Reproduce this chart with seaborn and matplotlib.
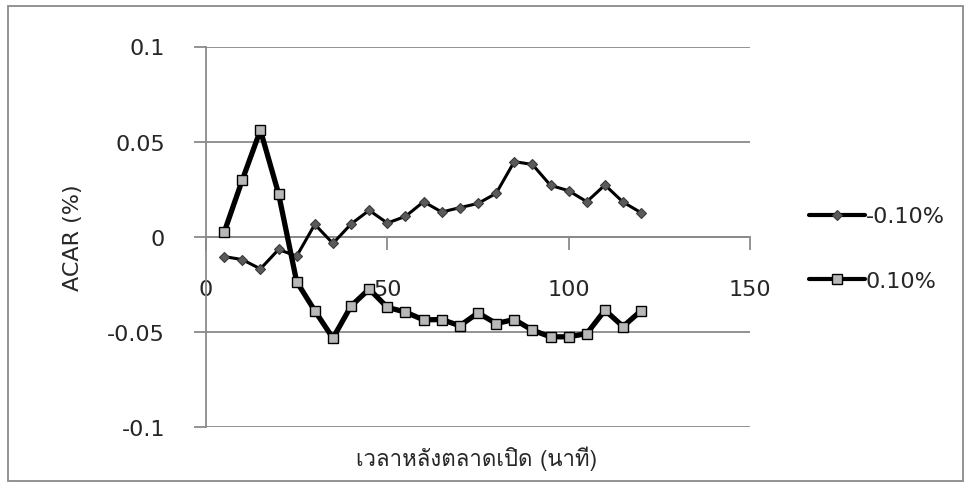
import numpy as np
import pandas as pd
import matplotlib
matplotlib.use("Agg")
import matplotlib.pyplot as plt
import seaborn as sns
from matplotlib import font_manager
from matplotlib.ft2font import FT2Font
from matplotlib.patches import Rectangle

# minutes after market open
minutes = [5, 10, 15, 20, 25, 30, 35, 40, 45, 50, 55, 60,
           65, 70, 75, 80, 85, 90, 95, 100, 105, 110, 115, 120]
acar_neg = [-0.0104, -0.0120, -0.0169, -0.0067, -0.0102, 0.0065, -0.0035, 0.0067,
            0.0139, 0.0072, 0.0107, 0.0184, 0.0130, 0.0153, 0.0175, 0.0228,
            0.0395, 0.0380, 0.0270, 0.0242, 0.0184, 0.0272, 0.0182, 0.0126]
acar_pos = [0.0023, 0.0298, 0.0560, 0.0227, -0.0236, -0.0389, -0.0533, -0.0364,
            -0.0275, -0.0371, -0.0396, -0.0437, -0.0435, -0.0468, -0.0400, -0.0456,
            -0.0435, -0.0491, -0.0526, -0.0526, -0.0509, -0.0386, -0.0472, -0.0388]
series_names = ["-0.10%", "0.10%"]
x_ticks = [0, 50, 100, 150]
y_ticks = [-0.1, -0.05, 0, 0.05, 0.1]
y_ticklabels = ["-0.1", "-0.05", "0", "0.05", "0.1"]
x_title = "เวลาหลังตลาดเปิด (นาที)"
y_title = "ACAR (%)"


def find_thai_font():
    for f in font_manager.fontManager.ttflist:
        try:
            if 0x0E40 in FT2Font(f.fname).get_charmap():
                return f.name
        except Exception:
            continue
    return None


sns.set_style("white")
plt.rcParams["font.family"] = ["DejaVu Sans"]
thai = find_thai_font()
thai_family = [thai, "DejaVu Sans"] if thai else ["DejaVu Sans"]

GRID = "#8a8a8a"
TEXT = "#262626"
W, H = 971, 489
fig = plt.figure(figsize=(W / 100, H / 100), dpi=100)
ax = fig.add_axes([206 / W, 1 - 428 / H, (750 - 206) / W, (428 - 47.5) / H])

df = pd.DataFrame({"minute": minutes, series_names[0]: acar_neg, series_names[1]: acar_pos})

sns.lineplot(data=df, x="minute", y=series_names[0], ax=ax, color="black", lw=2.2,
             marker="D", markersize=5.5, markerfacecolor="#5a5a5a",
             markeredgecolor="#3a3a3a", markeredgewidth=0.8, label=series_names[0],
             zorder=4)
sns.lineplot(data=df, x="minute", y=series_names[1], ax=ax, color="black", lw=3.8,
             marker="s", markersize=7.2, markerfacecolor="#b8b8b8",
             markeredgecolor="black", markeredgewidth=1.0, label=series_names[1],
             zorder=5)

ax.set_xlim(0, 150)
ax.set_ylim(-0.1, 0.1)
ax.set_xticks(x_ticks)
ax.set_yticks(y_ticks)
ax.set_yticklabels(y_ticklabels)

for y in y_ticks:
    ax.axhline(y, color=GRID, lw=1.3, zorder=1)

for side in ["top", "right"]:
    ax.spines[side].set_visible(False)
ax.spines["left"].set_color(GRID)
ax.spines["left"].set_linewidth(1.3)
ax.spines["bottom"].set_position(("data", 0))
ax.spines["bottom"].set_color(GRID)
ax.spines["bottom"].set_linewidth(1.3)

ax.tick_params(axis="x", bottom=True, direction="out", length=9.4, width=1.3,
               color=GRID, pad=21, labelsize=16, labelcolor=TEXT)
ax.tick_params(axis="y", left=True, direction="out", length=8.6, width=1.3,
               color=GRID, pad=21, labelsize=16, labelcolor=TEXT)

ax.set_xlabel("")
ax.set_ylabel("")
fig.text(476 / W, 1 - 459 / H, x_title, ha="center", va="center",
         fontsize=16, family=thai_family, color=TEXT)
fig.text(73 / W, 1 - 238 / H, y_title, ha="center", va="center",
         rotation=90, fontsize=16, color=TEXT)

leg = ax.legend(loc="center left", bbox_to_anchor=(809 / W, 1 - 249.5 / H),
                bbox_transform=fig.transFigure, frameon=False, fontsize=16,
                handlelength=2.5, handletextpad=0.05, labelspacing=2.0,
                borderpad=0, borderaxespad=0, labelcolor=TEXT)
for line in leg.get_lines():
    line.set_linewidth(3.0)

fig.patches.append(Rectangle((8 / W, 1 - 482 / H), (963 - 8) / W, (482 - 7) / H,
                             transform=fig.transFigure, fill=False,
                             edgecolor=GRID, lw=1.3))

fig.savefig("out.png", dpi=100)
